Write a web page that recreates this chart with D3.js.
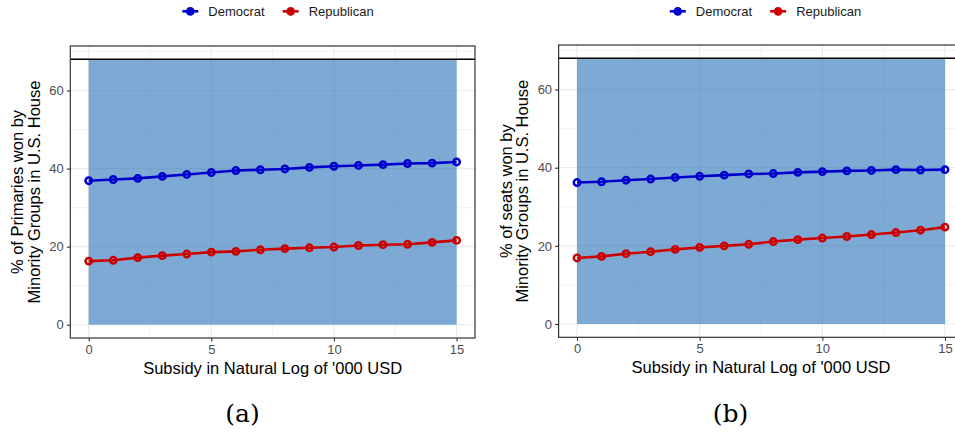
<!DOCTYPE html>
<html>
<head>
<meta charset="utf-8">
<script src="https://cdn.jsdelivr.net/npm/d3@7"></script>
<style>
  html, body { margin: 0; padding: 0; background: #ffffff; }
  svg { display: block; }
</style>
</head>
<body>
<svg id="chart" width="955" height="434"></svg>
<script>
// Subsidy level (natural log of '000 USD)
const subsidy = [0, 1, 2, 3, 4, 5, 6, 7, 8, 9, 10, 11, 12, 13, 14, 15];

// (a) % of primaries won by minority-group candidates
const demPrimaries = [36.9, 37.2, 37.5, 38.0, 38.5, 39.0, 39.5, 39.7, 39.9, 40.3, 40.6, 40.8, 41.0, 41.3, 41.4, 41.7];
const repPrimaries = [16.3, 16.5, 17.2, 17.7, 18.1, 18.6, 18.8, 19.2, 19.5, 19.7, 19.9, 20.3, 20.5, 20.6, 21.1, 21.6];

// (b) % of seats won by minority-group candidates
const demSeats = [36.2, 36.4, 36.8, 37.1, 37.5, 37.8, 38.1, 38.4, 38.5, 38.8, 39.0, 39.2, 39.3, 39.5, 39.4, 39.5];
const repSeats = [16.9, 17.3, 18.0, 18.5, 19.1, 19.6, 20.0, 20.4, 21.1, 21.6, 22.0, 22.4, 22.9, 23.4, 24.0, 24.8];

// Shaded observed range and reference line
const bandX = [0, 15];
const bandTop = 68;

const parties = ["Democrat", "Republican"];
const partyColors = ["#0000CC", "#CC0000"];

const xTicks = [0, 5, 10, 15];
const xMinor = [2.5, 7.5, 12.5];
const yTicks = [0, 20, 40, 60];
const yMinor = [10, 30, 50, 70];

const xTitle = "Subsidy in Natural Log of '000 USD";
const captions = ["(a)", "(b)"];
const yTitles = [
  ["% of Primaries won by", "Minority Groups in U.S. House"],
  ["% of seats won by", "Minority Groups in U.S. House"]
];

const svg = d3.select("#chart");
svg.append("rect").attr("width", 955).attr("height", 434).attr("fill", "#ffffff");

const FONT = "'Liberation Sans', Arial, sans-serif";

function drawPanel(opt) {
  const g = svg.append("g");
  const x = d3.scaleLinear().domain([-0.75, 15.75]).range([opt.left, opt.right]);
  const y = d3.scaleLinear().domain([-3.4, 71.4]).range([opt.bottom, opt.top]);

  // grid
  const grid = g.append("g");
  grid.selectAll(".ymin").data(yMinor).join("line")
    .attr("x1", opt.left).attr("x2", opt.right)
    .attr("y1", d => y(d)).attr("y2", d => y(d))
    .attr("stroke", "#EBEBEB").attr("stroke-width", 0.6);
  grid.selectAll(".xmin").data(xMinor).join("line")
    .attr("y1", opt.top).attr("y2", opt.bottom)
    .attr("x1", d => x(d)).attr("x2", d => x(d))
    .attr("stroke", "#EBEBEB").attr("stroke-width", 0.6);
  grid.selectAll(".ymaj").data(yTicks).join("line")
    .attr("x1", opt.left).attr("x2", opt.right)
    .attr("y1", d => y(d)).attr("y2", d => y(d))
    .attr("stroke", "#EBEBEB").attr("stroke-width", 1.2);
  grid.selectAll(".xmaj").data(xTicks).join("line")
    .attr("y1", opt.top).attr("y2", opt.bottom)
    .attr("x1", d => x(d)).attr("x2", d => x(d))
    .attr("stroke", "#EBEBEB").attr("stroke-width", 1.2);

  // shaded band
  g.append("rect")
    .attr("x", x(bandX[0])).attr("width", x(bandX[1]) - x(bandX[0]))
    .attr("y", y(bandTop)).attr("height", y(0) - y(bandTop))
    .attr("fill", "#2671B9").attr("fill-opacity", 0.6);

  // reference line
  g.append("line")
    .attr("x1", opt.left).attr("x2", opt.right)
    .attr("y1", y(bandTop)).attr("y2", y(bandTop))
    .attr("stroke", "#000000").attr("stroke-width", 1.5);

  // series
  const line = d3.line().x((d, i) => x(subsidy[i])).y(d => y(d));
  opt.series.forEach((vals, k) => {
    g.append("path").datum(vals)
      .attr("d", line).attr("fill", "none")
      .attr("stroke", partyColors[k]).attr("stroke-width", 2.6);
    g.selectAll(null).data(vals).join("circle")
      .attr("cx", (d, i) => x(subsidy[i])).attr("cy", d => y(d))
      .attr("r", 3.2).attr("fill", "none")
      .attr("stroke", partyColors[k]).attr("stroke-width", 2.5);
  });

  // panel border
  g.append("rect")
    .attr("x", opt.left).attr("y", opt.top)
    .attr("width", opt.right - opt.left).attr("height", opt.bottom - opt.top)
    .attr("fill", "none").attr("stroke", "#333333").attr("stroke-width", 1.2);

  // axes
  const ax = g.append("g").attr("transform", `translate(0,${opt.bottom})`)
    .call(d3.axisBottom(x).tickValues(xTicks).tickSize(3.5).tickPadding(3));
  const ay = g.append("g").attr("transform", `translate(${opt.left},0)`)
    .call(d3.axisLeft(y).tickValues(yTicks).tickSize(3.5).tickPadding(3));
  [ax, ay].forEach(a => {
    a.select(".domain").remove();
    a.selectAll(".tick line").attr("stroke", "#333333").attr("stroke-width", 1.1);
    a.selectAll(".tick text").attr("fill", "#4D4D4D")
      .style("font-family", FONT).style("font-size", "13px");
  });

  // axis titles
  g.append("text")
    .attr("x", (opt.left + opt.right) / 2).attr("y", opt.bottom + 35.5)
    .attr("text-anchor", "middle")
    .style("font-family", FONT).style("font-size", "16.5px").attr("fill", "#000")
    .text(xTitle);
  const cy = (opt.top + opt.bottom) / 2;
  opt.yTitle.forEach((t, i) => {
    const bx = opt.left + (i === 0 ? -47 : -30.5);
    g.append("text")
      .attr("transform", `translate(${bx},${cy}) rotate(-90)`)
      .attr("text-anchor", "middle")
      .style("font-family", FONT).style("font-size", "16.5px").attr("fill", "#000")
      .text(t);
  });

  // legend: key (line + dot) followed by its label
  const leg = g.append("g");
  let cursor = 0;
  const items = [];
  parties.forEach((p, k) => {
    const it = leg.append("g");
    it.append("line").attr("x1", -8).attr("x2", 8).attr("y1", 0).attr("y2", 0)
      .attr("stroke", partyColors[k]).attr("stroke-width", 2.6);
    it.append("circle").attr("r", 3.3).attr("fill", partyColors[k])
      .attr("stroke", partyColors[k]).attr("stroke-width", 2.2);
    const tx = it.append("text").attr("x", 18).attr("y", 4.6)
      .style("font-family", FONT).style("font-size", "13px").attr("fill", "#1a1a1a")
      .text(p);
    const w = tx.node().getComputedTextLength();
    items.push({ it, start: cursor });
    cursor += 8 + 18 + w + 18;
  });
  const totalW = cursor - 18;
  const startX = opt.legendCenter - totalW / 2 + 8;
  items.forEach(d => d.it.attr("transform", `translate(${startX + d.start},11.3)`));

  // caption
  svg.append("text")
    .attr("x", opt.captionX).attr("y", 422)
    .attr("text-anchor", "middle")
    .style("font-family", "'DejaVu Serif', serif").style("font-size", "25px").attr("fill", "#000")
    .text(opt.caption);
}

drawPanel({
  left: 70.3, right: 475, top: 46, bottom: 338,
  series: [demPrimaries, repPrimaries],
  yTitle: yTitles[0], caption: captions[0], captionX: 242.5,
  legendCenter: 278
});
drawPanel({
  left: 558.6, right: 963.4, top: 45, bottom: 337.3,
  series: [demSeats, repSeats],
  yTitle: yTitles[1], caption: captions[1], captionX: 730.5,
  legendCenter: 765.5
});
</script>
</body>
</html>
